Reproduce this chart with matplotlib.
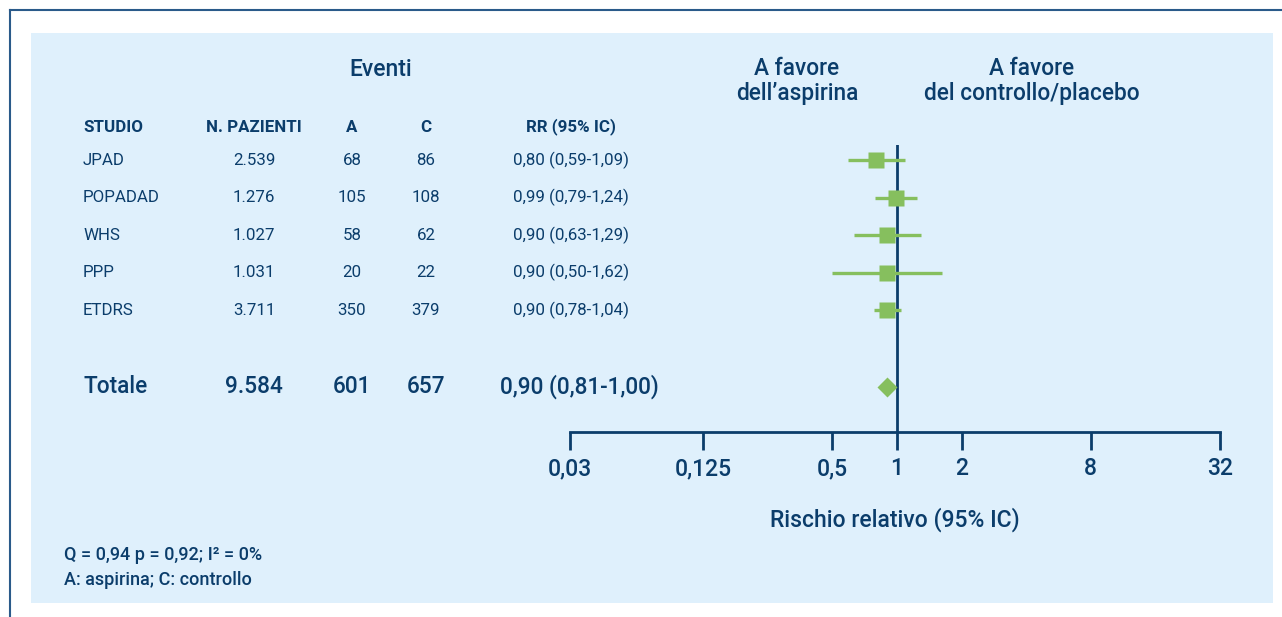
import matplotlib
matplotlib.use('Agg')
import matplotlib.pyplot as plt
import matplotlib.transforms as mtrans
from matplotlib.patches import Rectangle
from matplotlib.lines import Line2D
import numpy as np

plt.rcParams['font.family'] = ['Roboto', 'DejaVu Sans']

studies = ["JPAD", "POPADAD", "WHS", "PPP", "ETDRS"]
patients = ["2.539", "1.276", "1.027", "1.031", "3.711"]
events_a = ["68", "105", "58", "20", "350"]
events_c = ["86", "108", "62", "22", "379"]
rr = [0.80, 0.99, 0.90, 0.90, 0.90]
rr_lo = [0.59, 0.79, 0.63, 0.50, 0.78]
rr_hi = [1.09, 1.24, 1.29, 1.62, 1.04]

total_patients = "9.584"
total_a = "601"
total_c = "657"
total_rr = 0.90
total_lo = 0.81
total_hi = 1.00

xticks = [0.03, 0.125, 0.5, 1, 2, 8, 32]
xticklabels = ["0,03", "0,125", "0,5", "1", "2", "8", "32"]

navy = "#0b3d6b"
green = "#86bf5e"
panel = "#dff0fc"

W, H = 1282, 617
fig = plt.figure(figsize=(W / 100, H / 100), dpi=100)

def fx(px):
    return px / W

def fy(py):
    return 1 - py / H

# outer frame and panel
fig.add_artist(Line2D([fx(10), 1], [fy(10), fy(10)], color="#2a5a8a", lw=1.5))
fig.add_artist(Line2D([fx(10), fx(10)], [fy(10), 0], color="#2a5a8a", lw=1.5))
fig.add_artist(Rectangle((fx(31), fy(603)), fx(1273) - fx(31), fy(33) - fy(603),
                         facecolor=panel, edgecolor="none", zorder=0))

# forest axes
ax_top, ax_bot = 145, 432
ax = fig.add_axes([fx(570), fy(ax_bot), fx(1220) - fx(570), fy(ax_top) - fy(ax_bot)])
ax.set_facecolor("none")
ax.set_xscale("log", base=2)
ax.set_xlim(0.03, 32)
ax.set_ylim(7.25, -0.4)

rows = np.arange(len(studies))
total_row = 6.05

for y, r, lo, hi in zip(rows, rr, rr_lo, rr_hi):
    ax.plot([lo, hi], [y, y], color=green, lw=2.4, solid_capstyle="butt", zorder=2)
    ax.plot(r, y, marker="s", ms=12, color=green, mec="none", zorder=3)
ax.plot(total_rr, total_row, marker="D", ms=10.5, color=green, mec="none", zorder=3)

for s in ["top", "right", "left"]:
    ax.spines[s].set_visible(False)
ax.spines["bottom"].set_color(navy)
ax.spines["bottom"].set_linewidth(2)
ax.axvline(1, color=navy, lw=2, zorder=1)
ax.set_yticks([])
ax.set_xticks(xticks)
ax.set_xticklabels(xticklabels, fontweight="medium")
ax.minorticks_off()
ax.tick_params(axis="x", direction="out", length=13, width=2, color=navy,
               labelcolor=navy, labelsize=16.5, pad=5)
ax.set_xlabel("Rischio relativo (95% IC)", color=navy, fontsize=16.5,
              fontweight="medium", labelpad=20)

# table columns
tr = mtrans.blended_transform_factory(fig.transFigure, ax.transData)
fs = 12.2

for y, name, p, a, c, r, lo, hi in zip(rows, studies, patients, events_a, events_c, rr, rr_lo, rr_hi):
    ax.text(fx(83), y, name, transform=tr, ha="left", va="center", color=navy, fontsize=fs)
    ax.text(fx(254), y, p, transform=tr, ha="center", va="center", color=navy, fontsize=fs)
    ax.text(fx(352), y, a, transform=tr, ha="center", va="center", color=navy, fontsize=fs)
    ax.text(fx(426), y, c, transform=tr, ha="center", va="center", color=navy, fontsize=fs)
    lab = f"{r:.2f} ({lo:.2f}-{hi:.2f})".replace(".", ",")
    ax.text(fx(571), y, lab, transform=tr, ha="center", va="center", color=navy, fontsize=fs)

fs_t = 16.3
tw = "medium"
ax.text(fx(83), total_row, "Totale", transform=tr, ha="left", va="center", color=navy, fontsize=fs_t, fontweight=tw)
ax.text(fx(254), total_row, total_patients, transform=tr, ha="center", va="center", color=navy, fontsize=fs_t, fontweight=tw)
ax.text(fx(352), total_row, total_a, transform=tr, ha="center", va="center", color=navy, fontsize=fs_t, fontweight=tw)
ax.text(fx(426), total_row, total_c, transform=tr, ha="center", va="center", color=navy, fontsize=fs_t, fontweight=tw)
tot_lab = f"{total_rr:.2f} ({total_lo:.2f}-{total_hi:.2f})".replace(".", ",")
ax.text(fx(579), total_row, tot_lab, transform=tr, ha="center", va="center", color=navy, fontsize=fs_t, fontweight=tw)

# headers
hy = fy(127)
fig.text(fx(83), hy, "STUDIO", ha="left", va="center", color=navy, fontsize=fs, fontweight="bold")
fig.text(fx(254), hy, "N. PAZIENTI", ha="center", va="center", color=navy, fontsize=fs, fontweight="bold")
fig.text(fx(352), hy, "A", ha="center", va="center", color=navy, fontsize=fs, fontweight="bold")
fig.text(fx(426), hy, "C", ha="center", va="center", color=navy, fontsize=fs, fontweight="bold")
fig.text(fx(571), hy, "RR (95% IC)", ha="center", va="center", color=navy, fontsize=fs, fontweight="bold")
fig.text(fx(381), fy(70), "Eventi", ha="center", va="center", color=navy, fontsize=16.5, fontweight="medium")
fig.text(fx(797), fy(81), "A favore\ndell\u2019aspirina", ha="center", va="center", color=navy,
         fontsize=16.3, fontweight="medium", linespacing=1.1)
fig.text(fx(1032), fy(81), "A favore\ndel controllo/placebo", ha="center", va="center", color=navy,
         fontsize=16.3, fontweight="medium", linespacing=1.1)

# footnotes
fig.text(fx(64), fy(555), "Q = 0,94 p = 0,92; I\u00b2 = 0%", ha="left", va="center", color=navy,
         fontsize=13, fontweight="medium")
fig.text(fx(64), fy(580), "A: aspirina; C: controllo", ha="left", va="center", color=navy,
         fontsize=13, fontweight="medium")

fig.savefig("out.png", dpi=100)
